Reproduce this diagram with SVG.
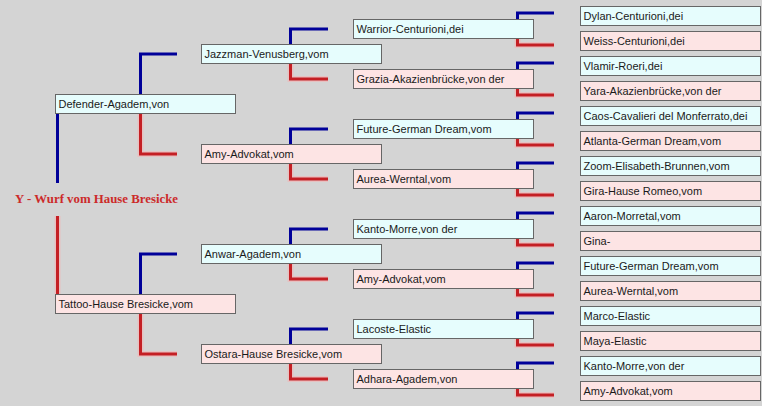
<svg xmlns="http://www.w3.org/2000/svg" width="762" height="406" viewBox="0 0 762 406">
<style>
.m rect{fill:#e6fdfd;stroke:#666;stroke-width:1}
.f rect{fill:#fde4e4;stroke:#666;stroke-width:1}
text{font-family:"Liberation Sans",Arial,sans-serif;font-size:11px;fill:#1a1a1a}
.b{fill:none;stroke:#000099;stroke-width:3;stroke-linejoin:miter;stroke-linecap:butt}
.r{fill:none;stroke:#c41f24;stroke-width:3;stroke-linejoin:miter;stroke-linecap:butt}
.rg{fill:none;stroke:#f6b0b0;stroke-width:6;stroke-opacity:0.55;stroke-linejoin:miter}
.title{font-family:"Liberation Serif","Times New Roman",serif;font-size:13px;font-weight:bold;fill:#cc2a2a}
</style>
<rect x="0" y="0" width="762" height="406" fill="#d4d4d4"/>
<g id="connectors">
<g id="glow">
<polyline class="rg" points="57.5,216 57.5,294"/>
<polyline class="rg" points="140.5,114 140.5,154 177,154"/>
<polyline class="rg" points="140.5,314 140.5,354 177,354"/>
<polyline class="rg" points="290.5,64 290.5,79 328,79"/>
<polyline class="rg" points="290.5,164 290.5,179 328,179"/>
<polyline class="rg" points="290.5,264 290.5,279 328,279"/>
<polyline class="rg" points="290.5,364 290.5,379 328,379"/>
<polyline class="rg" points="517.5,39 517.5,45 554,45"/>
<polyline class="rg" points="517.5,89 517.5,95 554,95"/>
<polyline class="rg" points="517.5,139 517.5,145 554,145"/>
<polyline class="rg" points="517.5,189 517.5,195 554,195"/>
<polyline class="rg" points="517.5,239 517.5,245 554,245"/>
<polyline class="rg" points="517.5,289 517.5,295 554,295"/>
<polyline class="rg" points="517.5,339 517.5,345 554,345"/>
<polyline class="rg" points="517.5,389 517.5,395 554,395"/>
</g>
<polyline class="b" points="57.5,114 57.5,183"/>
<polyline class="r" points="57.5,216 57.5,294"/>
<polyline class="b" points="140.5,94 140.5,54 177,54"/>
<polyline class="r" points="140.5,114 140.5,154 177,154"/>
<polyline class="b" points="140.5,294 140.5,254 177,254"/>
<polyline class="r" points="140.5,314 140.5,354 177,354"/>
<polyline class="b" points="290.5,44 290.5,29 328,29"/>
<polyline class="r" points="290.5,64 290.5,79 328,79"/>
<polyline class="b" points="290.5,144 290.5,129 328,129"/>
<polyline class="r" points="290.5,164 290.5,179 328,179"/>
<polyline class="b" points="290.5,244 290.5,229 328,229"/>
<polyline class="r" points="290.5,264 290.5,279 328,279"/>
<polyline class="b" points="290.5,344 290.5,329 328,329"/>
<polyline class="r" points="290.5,364 290.5,379 328,379"/>
<polyline class="b" points="517.5,19 517.5,13 554,13"/>
<polyline class="r" points="517.5,39 517.5,45 554,45"/>
<polyline class="b" points="517.5,69 517.5,63 554,63"/>
<polyline class="r" points="517.5,89 517.5,95 554,95"/>
<polyline class="b" points="517.5,119 517.5,113 554,113"/>
<polyline class="r" points="517.5,139 517.5,145 554,145"/>
<polyline class="b" points="517.5,169 517.5,163 554,163"/>
<polyline class="r" points="517.5,189 517.5,195 554,195"/>
<polyline class="b" points="517.5,219 517.5,213 554,213"/>
<polyline class="r" points="517.5,239 517.5,245 554,245"/>
<polyline class="b" points="517.5,269 517.5,263 554,263"/>
<polyline class="r" points="517.5,289 517.5,295 554,295"/>
<polyline class="b" points="517.5,319 517.5,313 554,313"/>
<polyline class="r" points="517.5,339 517.5,345 554,345"/>
<polyline class="b" points="517.5,369 517.5,363 554,363"/>
<polyline class="r" points="517.5,389 517.5,395 554,395"/>
</g>
<g id="root"><text class="title" x="15" y="203" textLength="163" lengthAdjust="spacingAndGlyphs">Y - Wurf vom Hause Bresicke</text></g>
<g id="g1-defender" class="m"><rect x="55.5" y="94.5" width="180" height="19"/><text x="58.5" y="108">Defender-Agadem,von</text></g>
<g id="g1-tattoo" class="f"><rect x="55.5" y="294.5" width="180" height="19"/><text x="58.5" y="308">Tattoo-Hause Bresicke,vom</text></g>
<g id="g2-jazzman" class="m"><rect x="201.5" y="44.5" width="180" height="19"/><text x="204.5" y="58">Jazzman-Venusberg,vom</text></g>
<g id="g2-amy" class="f"><rect x="201.5" y="144.5" width="180" height="19"/><text x="204.5" y="158">Amy-Advokat,vom</text></g>
<g id="g2-anwar" class="m"><rect x="201.5" y="244.5" width="180" height="19"/><text x="204.5" y="258">Anwar-Agadem,von</text></g>
<g id="g2-ostara" class="f"><rect x="201.5" y="344.5" width="180" height="19"/><text x="204.5" y="358">Ostara-Hause Bresicke,vom</text></g>
<g id="g3-warrior" class="m"><rect x="353.5" y="19.5" width="180" height="19"/><text x="356.5" y="33">Warrior-Centurioni,dei</text></g>
<g id="g3-grazia" class="f"><rect x="353.5" y="69.5" width="180" height="19"/><text x="356.5" y="83">Grazia-Akazienbrücke,von der</text></g>
<g id="g3-future" class="m"><rect x="353.5" y="119.5" width="180" height="19"/><text x="356.5" y="133">Future-German Dream,vom</text></g>
<g id="g3-aurea" class="f"><rect x="353.5" y="169.5" width="180" height="19"/><text x="356.5" y="183">Aurea-Werntal,vom</text></g>
<g id="g3-kanto" class="m"><rect x="353.5" y="219.5" width="180" height="19"/><text x="356.5" y="233">Kanto-Morre,von der</text></g>
<g id="g3-amy" class="f"><rect x="353.5" y="269.5" width="180" height="19"/><text x="356.5" y="283">Amy-Advokat,vom</text></g>
<g id="g3-lacoste" class="m"><rect x="353.5" y="319.5" width="180" height="19"/><text x="356.5" y="333">Lacoste-Elastic</text></g>
<g id="g3-adhara" class="f"><rect x="353.5" y="369.5" width="180" height="19"/><text x="356.5" y="383">Adhara-Agadem,von</text></g>
<g id="g4-dylan" class="m"><rect x="580.5" y="6.5" width="180" height="19"/><text x="583.5" y="20">Dylan-Centurioni,dei</text></g>
<g id="g4-weiss" class="f"><rect x="580.5" y="31.5" width="180" height="19"/><text x="583.5" y="45">Weiss-Centurioni,dei</text></g>
<g id="g4-vlamir" class="m"><rect x="580.5" y="56.5" width="180" height="19"/><text x="583.5" y="70">Vlamir-Roeri,dei</text></g>
<g id="g4-yara" class="f"><rect x="580.5" y="81.5" width="180" height="19"/><text x="583.5" y="95">Yara-Akazienbrücke,von der</text></g>
<g id="g4-caos" class="m"><rect x="580.5" y="106.5" width="180" height="19"/><text x="583.5" y="120">Caos-Cavalieri del Monferrato,dei</text></g>
<g id="g4-atlanta" class="f"><rect x="580.5" y="131.5" width="180" height="19"/><text x="583.5" y="145">Atlanta-German Dream,vom</text></g>
<g id="g4-zoom" class="m"><rect x="580.5" y="156.5" width="180" height="19"/><text x="583.5" y="170">Zoom-Elisabeth-Brunnen,vom</text></g>
<g id="g4-gira" class="f"><rect x="580.5" y="181.5" width="180" height="19"/><text x="583.5" y="195">Gira-Hause Romeo,vom</text></g>
<g id="g4-aaron" class="m"><rect x="580.5" y="206.5" width="180" height="19"/><text x="583.5" y="220">Aaron-Morretal,vom</text></g>
<g id="g4-gina" class="f"><rect x="580.5" y="231.5" width="180" height="19"/><text x="583.5" y="245">Gina-</text></g>
<g id="g4-future" class="m"><rect x="580.5" y="256.5" width="180" height="19"/><text x="583.5" y="270">Future-German Dream,vom</text></g>
<g id="g4-aurea" class="f"><rect x="580.5" y="281.5" width="180" height="19"/><text x="583.5" y="295">Aurea-Werntal,vom</text></g>
<g id="g4-marco" class="m"><rect x="580.5" y="306.5" width="180" height="19"/><text x="583.5" y="320">Marco-Elastic</text></g>
<g id="g4-maya" class="f"><rect x="580.5" y="331.5" width="180" height="19"/><text x="583.5" y="345">Maya-Elastic</text></g>
<g id="g4-kanto" class="m"><rect x="580.5" y="356.5" width="180" height="19"/><text x="583.5" y="370">Kanto-Morre,von der</text></g>
<g id="g4-amy" class="f"><rect x="580.5" y="381.5" width="180" height="19"/><text x="583.5" y="395">Amy-Advokat,vom</text></g>
</svg>
